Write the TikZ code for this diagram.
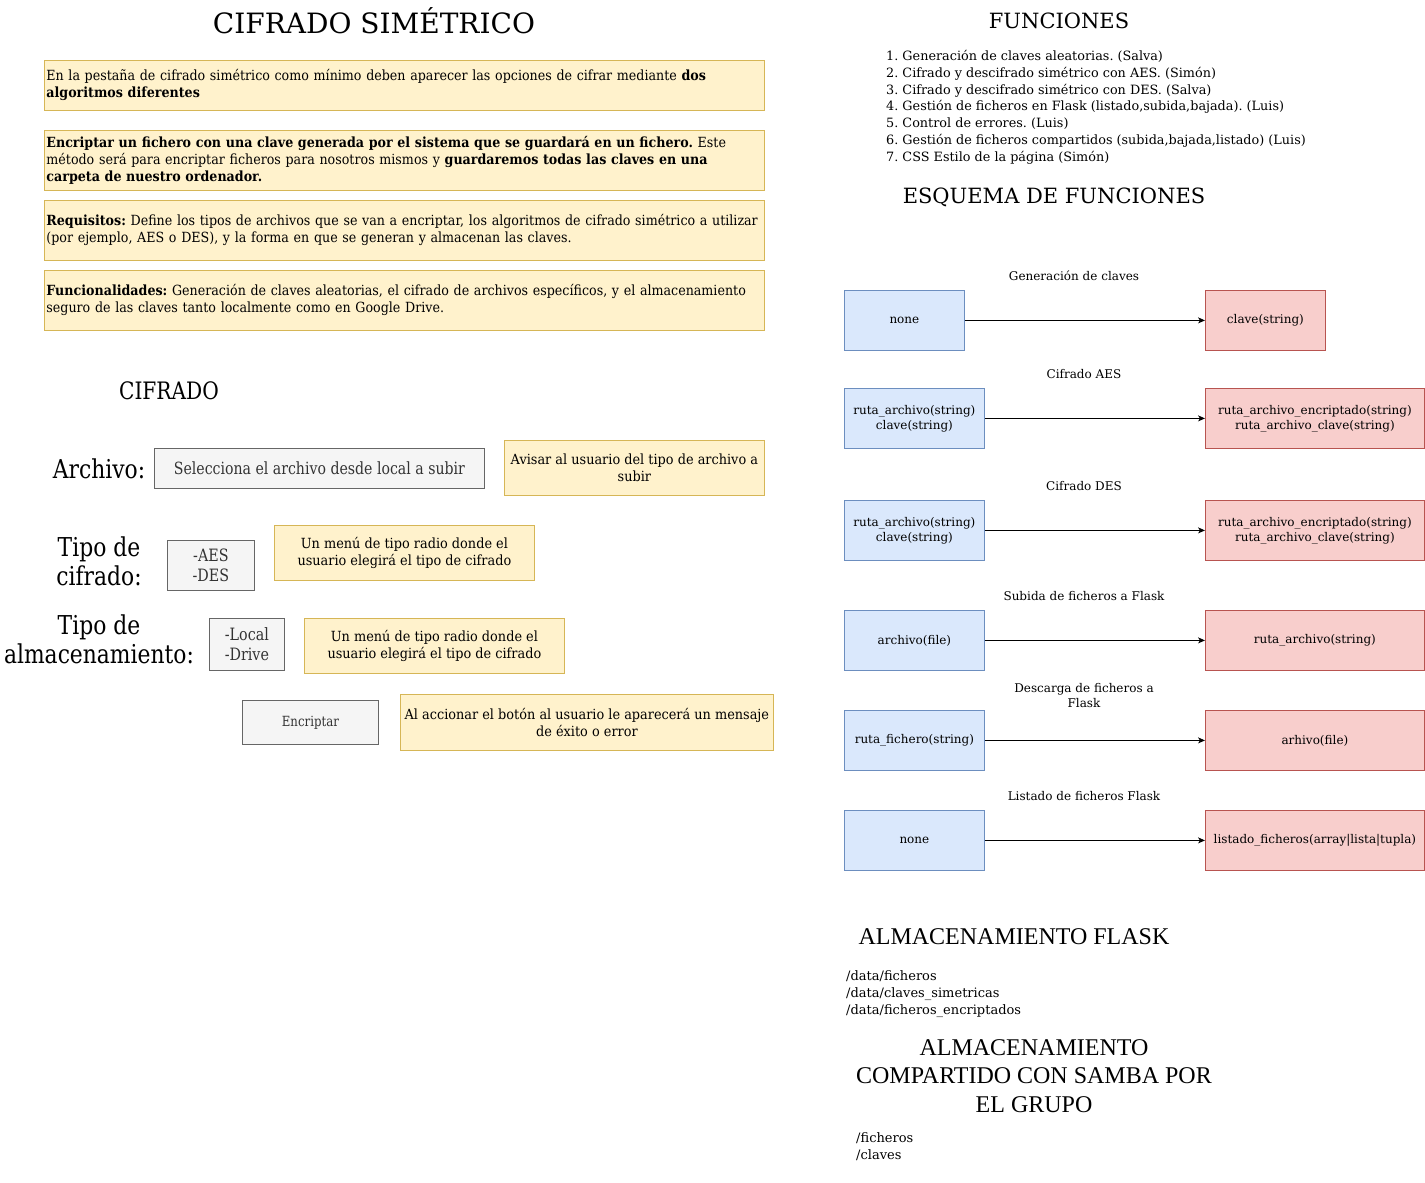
\documentclass[tikz,border=0pt]{standalone}
\usepackage{fontspec}
\setmainfont{DejaVu Serif}
\newfontfamily\cond[FakeStretch=0.84]{DejaVu Serif}
\newfontfamily\condb[FakeStretch=0.92]{DejaVu Serif}
\newfontfamily\condi[FakeStretch=0.905]{DejaVu Serif}
\newfontfamily\timesf{Liberation Serif}
\usetikzlibrary{arrows.meta}
\frenchspacing
\definecolor{yfill}{HTML}{FFF2CC}
\definecolor{ydraw}{HTML}{D6B656}
\definecolor{bfill}{HTML}{DAE8FC}
\definecolor{bdraw}{HTML}{6C8EBF}
\definecolor{rfill}{HTML}{F8CECC}
\definecolor{rdraw}{HTML}{B85450}
\definecolor{gfill}{HTML}{F5F5F5}
\definecolor{gdraw}{HTML}{666666}
\definecolor{gtext}{HTML}{333333}
\tikzset{
  ybox/.style={draw=ydraw, fill=yfill, line width=0.8pt, inner xsep=2pt, inner ysep=0pt, anchor=north west},
  yinfo/.style={ybox, align=left, text width=716pt, minimum height=#1, font=\condi\frenchspacing\fontsize{14}{17}\selectfont},
  ynote/.style={draw=ydraw, fill=yfill, line width=0.8pt, inner sep=0pt, anchor=north west, align=center, font=\condb\fontsize{14}{17}\selectfont},
  gbox/.style={draw=gdraw, fill=gfill, line width=0.8pt, inner sep=0pt, anchor=north west, align=center, text=gtext},
  bbox/.style={draw=bdraw, fill=bfill, line width=0.8pt, inner sep=0pt, anchor=north west, align=center, minimum height=60pt, font=\fontsize{12}{15}\selectfont},
  rbox/.style={draw=rdraw, fill=rfill, line width=0.8pt, inner sep=0pt, anchor=north west, align=center, minimum height=60pt, font=\fontsize{12}{15}\selectfont},
  lbl/.style={inner sep=0pt, align=center},
  arr/.style={-{Stealth[length=7pt,width=6pt,inset=2pt]}, line width=0.8pt},
  plain/.style={inner sep=0pt, align=left, anchor=north west},
}
\begin{document}
\begin{tikzpicture}[x=1pt,y=-1pt]
\useasboundingbox (0,0) rectangle (1425,1183);
\fill[white] (0,0) rectangle (1425,1183);

% ---------- LEFT: CIFRADO SIMETRICO ----------
\node[lbl, font=\fontsize{28}{32}\selectfont] (title) at (374,21) {CIFRADO SIMÉTRICO};

\node[yinfo=50pt] (info1) at (44,60) {\mbox{En la pestaña de cifrado simétrico como mínimo deben aparecer las opciones de cifrar mediante \textbf{dos}}\\\mbox{\textbf{algoritmos diferentes}}};
\node[yinfo=60pt] (info2) at (44,130) {\mbox{\textbf{Encriptar un fichero con una clave generada por el sistema que se guardará en un fichero.} Este}\\\mbox{método será para encriptar ficheros para nosotros mismos y \textbf{guardaremos todas las claves en una}}\\\mbox{\textbf{carpeta de nuestro ordenador.}}};
\node[yinfo=60pt] (info3) at (44,200) {\mbox{\textbf{Requisitos:} Define los tipos de archivos que se van a encriptar, los algoritmos de cifrado simétrico a utilizar}\\\mbox{(por ejemplo, AES o DES), y la forma en que se generan y almacenan las claves.}};
\node[yinfo=60pt] (info4) at (44,270) {\mbox{\textbf{Funcionalidades:} Generación de claves aleatorias, el cifrado de archivos específicos, y el almacenamiento}\\\mbox{seguro de las claves tanto localmente como en Google Drive.}};

\node[lbl, font=\cond\fontsize{24}{28}\selectfont] (cifrado) at (169,391) {CIFRADO};

\node[lbl, font=\cond\fontsize{26}{29}\selectfont] (larch) at (99,469) {Archivo:};
\node[gbox, minimum width=330pt, minimum height=40pt, font=\cond\fontsize{16.8}{20}\selectfont] (sel) at (154,448) {Selecciona el archivo desde local a subir};
\node[ynote, minimum width=260pt, minimum height=55pt] (n1) at (504,440) {Avisar al usuario del tipo de archivo a\\subir};

\node[lbl, font=\cond\fontsize{26}{29}\selectfont] (ltipo) at (99,561) {Tipo de\\cifrado:};
\node[gbox, minimum width=87pt, minimum height=50pt, font=\cond\fontsize{17}{20}\selectfont] (aes) at (167,540) {-AES\\-DES};
\node[ynote, minimum width=260pt, minimum height=55pt] (n2) at (274,525) {Un menú de tipo radio donde el\\usuario elegirá el tipo de cifrado};

\node[lbl, font=\cond\fontsize{26}{29}\selectfont] (lalm) at (99,639) {Tipo de\\almacenamiento:};
\node[gbox, minimum width=75pt, minimum height=52pt, font=\cond\fontsize{17}{20}\selectfont] (loc) at (209,618) {-Local\\-Drive};
\node[ynote, minimum width=260pt, minimum height=55pt] (n3) at (304,618) {Un menú de tipo radio donde el\\usuario elegirá el tipo de cifrado};

\node[gbox, minimum width=136pt, minimum height=44pt, font=\cond\fontsize{14}{17}\selectfont] (btn) at (242,700) {Encriptar};
\node[ynote, minimum width=373pt, minimum height=56pt] (n4) at (400,694) {Al accionar el botón al usuario le aparecerá un mensaje\\de éxito o error};

% ---------- RIGHT: FUNCIONES ----------
\node[lbl, font=\fontsize{21}{25}\selectfont] (func) at (1059,21) {FUNCIONES};
\node[plain, font=\fontsize{12.8}{16.8}\selectfont] (list) at (886,50) {1. Generación de claves aleatorias. (Salva)\\
2. Cifrado y descifrado simétrico con AES. (Simón)\\
3. Cifrado y descifrado simétrico con DES. (Salva)\\
4. Gestión de ficheros en Flask (listado,subida,bajada). (Luis)\\
5. Control de errores. (Luis)\\
6. Gestión de ficheros compartidos (subida,bajada,listado) (Luis)\\
7. CSS Estilo de la página (Simón)};
\node[lbl, font=\fontsize{21}{25}\selectfont] (esq) at (1054,197) {ESQUEMA DE FUNCIONES};

% rows
\node[lbl, font=\fontsize{12}{15}\selectfont] (t1) at (1074,276) {Generación de claves};
\node[bbox, minimum width=120pt] (b1) at (844,290) {none};
\node[rbox, minimum width=120pt] (r1) at (1205,290) {clave(string)};
\draw[arr] (b1) -- (r1);

\node[lbl, font=\fontsize{12}{15}\selectfont] (t2) at (1084,374) {Cifrado AES};
\node[bbox, minimum width=140pt] (b2) at (844,388) {ruta\_archivo(string)\\clave(string)};
\node[rbox, minimum width=219pt] (r2) at (1205,388) {ruta\_archivo\_encriptado(string)\\ruta\_archivo\_clave(string)};
\draw[arr] (b2) -- (r2);

\node[lbl, font=\fontsize{12}{15}\selectfont] (t3) at (1084,486) {Cifrado DES};
\node[bbox, minimum width=140pt] (b3) at (844,500) {ruta\_archivo(string)\\clave(string)};
\node[rbox, minimum width=219pt] (r3) at (1205,500) {ruta\_archivo\_encriptado(string)\\ruta\_archivo\_clave(string)};
\draw[arr] (b3) -- (r3);

\node[lbl, font=\fontsize{12}{15}\selectfont] (t4) at (1084,596) {Subida de ficheros a Flask};
\node[bbox, minimum width=140pt] (b4) at (844,610) {archivo(file)};
\node[rbox, minimum width=219pt] (r4) at (1205,610) {ruta\_archivo(string)};
\draw[arr] (b4) -- (r4);

\node[lbl, font=\fontsize{12}{15}\selectfont] (t5) at (1084,696) {Descarga de ficheros a\\Flask};
\node[bbox, minimum width=140pt] (b5) at (844,710) {ruta\_fichero(string)};
\node[rbox, minimum width=219pt] (r5) at (1205,710) {arhivo(file)};
\draw[arr] (b5) -- (r5);

\node[lbl, font=\fontsize{12}{15}\selectfont] (t6) at (1084,796) {Listado de ficheros Flask};
\node[bbox, minimum width=140pt] (b6) at (844,810) {none};
\node[rbox, minimum width=219pt] (r6) at (1205,810) {listado\_ficheros(array|lista|tupla)};
\draw[arr] (b6) -- (r6);

% ---------- ALMACENAMIENTO ----------
\node[lbl, font=\timesf\fontsize{24}{28}\selectfont] (almf) at (1014,937) {ALMACENAMIENTO FLASK};
\node[plain, font=\fontsize{13}{17}\selectfont] (paths1) at (846,970) {/data/ficheros\\/data/claves\_simetricas\\/data/ficheros\_encriptados};
\node[lbl, font=\timesf\fontsize{24}{28.5}\selectfont] (alms) at (1034,1076) {ALMACENAMIENTO\\COMPARTIDO CON SAMBA POR\\EL GRUPO};
\node[plain, font=\fontsize{13}{17}\selectfont] (paths2) at (856,1132) {/ficheros\\/claves};
\end{tikzpicture}
\end{document}
